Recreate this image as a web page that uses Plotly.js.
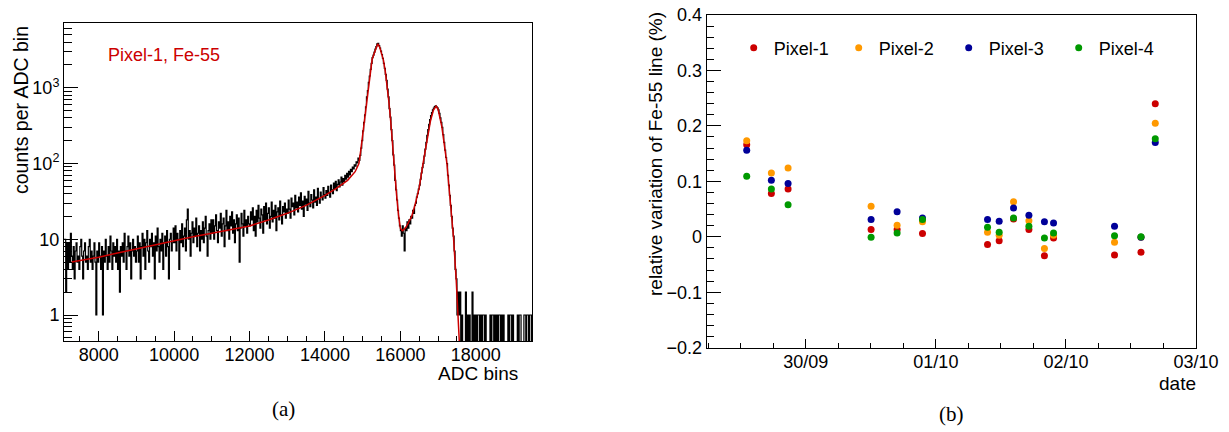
<!DOCTYPE html>
<html>
<head>
<meta charset="utf-8">
<script src="https://cdn.plot.ly/plotly-3.0.1.min.js"></script>
<style>
html,body{margin:0;padding:0;background:#fff;}
#chart{width:1229px;height:432px;}
</style>
</head>
<body>
<div id="chart"></div>
<script>
// ---------------- Panel (a): Fe-55 spectrum, Pixel-1 ----------------
const binStart = 7075;   // left edge of first ADC bin
const binWidth = 25;     // ADC bin width
const counts = [
  // 7075 .. 7975
  10,10,2,9,4,9,5,12,6,4,8,3,7,9,5,6,4,8,10,6,3,7,9,5,6,4,8,10,5,7,4,6,9,5,1,7,5,
  // 8000 .. 8975
  9,6,4,8,1,7,5,10,6,4,8,5,11,7,4,9,6,8,5,10,4,7,2,8,6,9,5,12,7,4,8,11,6,9,3,7,10,6,8,5,
  // 9000 .. 9975
  7,11,5,9,3,8,12,6,10,4,9,13,7,5,10,8,12,6,9,3,11,7,14,8,5,10,7,12,4,9,11,6,13,8,3,10,12,7,9,14,
  // 10000 .. 10975
  9,15,7,12,10,4,13,9,16,8,11,14,7,18,25,10,13,6,12,17,9,14,11,19,8,12,15,7,13,10,17,9,14,20,11,6,13,16,10,18,
  // 11000 .. 11975
  12,18,10,15,21,13,9,17,14,22,11,16,19,8,15,24,13,17,10,20,15,23,12,18,9,16,21,13,19,5,14,22,16,11,24,15,18,12,20,16,
  // 12000 .. 12975
  15,23,18,26,13,20,11,24,17,28,19,14,25,21,12,27,18,30,16,22,26,14,20,31,17,24,19,28,13,23,26,18,32,21,16,27,23,30,19,25,
  // 13000 .. 13975
  22,33,25,19,35,27,30,21,38,26,31,23,36,28,41,25,32,20,37,29,34,24,43,30,27,39,33,26,45,31,36,28,47,34,30,42,37,33,48,39,
  // 14000 .. 14975
  35,44,38,50,41,36,52,45,40,55,47,58,44,53,61,49,57,66,52,63,58,70,62,74,66,79,71,84,78,90,85,96,92,105,102,118,110,128,160,200,
  // 15000 .. 15975
  270,350,440,560,760,920,1180,1430,1750,2100,2500,2700,2950,3250,3500,3800,3850,3600,3350,3050,
  2750,2450,2100,1800,1500,1250,960,760,530,410,280,200,130,95,60,45,33,24,19,15,
  // 16000 .. 16975
  13,11,15,12,7,14,13,17,14,18,16,20,19,24,22,28,30,36,40,46,52,62,75,88,100,125,155,190,235,280,330,380,430,470,510,540,565,575,560,545,
  // 17000 .. 17975
  510,460,400,350,300,240,190,150,120,100,70,52,38,28,20,14,11,7,4,3,1,2,1,2,0,1,0,0,0,2,0,1,0,1,0,0,2,0,1,0,
  // 18000 .. 18975
  1,0,1,1,0,1,0,1,1,0,1,0,0,0,0,1,0,1,1,0,1,0,1,0,1,1,0,1,0,1,0,0,0,0,1,0,1,1,0,1,
  // 19000 .. 19475
  0,0,0,0,1,0,1,1,0,0,0,1,1,0,1,1,0,1,1,0
];
// fit curve (red)
const fitADC = [7280,7500,8000,8500,9000,9500,10000,10500,11000,11500,12000,12500,13000,13500,14000,14300,14600,14800,14900,14950,
  15000,15050,15100,15150,15200,15250,15300,15350,15400,15450,15500,15550,15600,15650,15700,15750,15800,15850,15900,15950,
  16000,16050,16100,16150,16200,16300,16400,16500,16600,16700,16800,16877,16948,17000,17100,17233,17320,17408,17480,17540,17580];
const fitVal = [5.0,5.2,5.8,6.6,7.5,8.5,9.6,10.8,12,13.4,15,18,22,28,38,47,60,78,100,150,
  240,386,680,1060,1620,2370,2800,3300,3800,3450,2900,2320,1650,1050,620,330,150,70,38,21,
  14,13,13.5,14.5,16,20,30,48,100,200,370,507,573,520,305,100,30,10.7,2.9,0.63,0.3];

// ---------------- Panel (b): relative variation ----------------
const dates = ['2016-09-29 13:06','2016-09-29 17:39','2016-09-29 20:44','2016-09-30 12:03','2016-09-30 16:51',
  '2016-09-30 21:32','2016-10-01 09:32','2016-10-01 11:41','2016-10-01 14:20','2016-10-01 17:10',
  '2016-10-01 20:02','2016-10-01 21:43','2016-10-02 08:58','2016-10-02 13:51','2016-10-02 16:29'];
const pixel1 = [0.166,0.078,0.086,0.013,0.013,0.006,-0.014,-0.007,0.032,0.013,-0.034,-0.002,-0.033,-0.028,0.240];
const pixel2 = [0.173,0.115,0.124,0.055,0.021,0.027,0.008,0.003,0.063,0.029,-0.021,0.003,-0.010,-0.001,0.205];
const pixel3 = [0.156,0.102,0.096,0.031,0.045,0.034,0.031,0.028,0.052,0.039,0.027,0.025,0.019,-0.001,0.170];
const pixel4 = [0.109,0.086,0.058,-0.001,0.007,0.031,0.017,0.008,0.034,0.019,-0.002,0.007,0.002,0.000,0.177];
const pixelNames = ['Pixel-1','Pixel-2','Pixel-3','Pixel-4'];
const pixelColors = ['#cc0000','#ff9900','#000099','#009900'];

// ---------------- build traces ----------------
const histX = counts.map((_, i) => binStart + i * binWidth);
histX.push(binStart + counts.length * binWidth);
const histY = counts.map(v => v > 0 ? v : 0.01);
histY.push(histY[histY.length - 1]);

const W = 1229, H = 432;
const px = x => x / W;
const py = y => 1 - y / H;
const FONT = 'Liberation Sans, Arial, Helvetica, sans-serif';

const traces = [
  {x: histX, y: histY, type: 'scatter', mode: 'lines', line: {shape: 'hv', color: '#000', width: 1.2},
   xaxis: 'x', yaxis: 'y', showlegend: false, hoverinfo: 'skip'},
  {x: fitADC, y: fitVal, type: 'scatter', mode: 'lines', line: {color: '#cc0000', width: 1.5},
   xaxis: 'x', yaxis: 'y', showlegend: false, hoverinfo: 'skip'}
];
const series = [pixel1, pixel2, pixel3, pixel4];
const legendIds = ['legend', 'legend2', 'legend3', 'legend4'];
series.forEach((s, k) => {
  traces.push({x: dates, y: s, type: 'scatter', mode: 'markers', name: pixelNames[k],
    marker: {color: pixelColors[k], size: 7}, xaxis: 'x2', yaxis: 'y2', legend: legendIds[k]});
});

const minorLog = [];
[0.1, 1, 10, 100, 1000].forEach(d => { for (let m = 2; m <= 9; m++) minorLog.push(m * d); });

const axisCommon = {showline: true, mirror: true, linecolor: '#000', linewidth: 1, ticks: 'inside',
  tickcolor: '#000', tickwidth: 1, showgrid: false, zeroline: false,
  tickfont: {family: FONT, size: 18, color: '#000'}};

const legendBase = {bgcolor: 'rgba(0,0,0,0)', borderwidth: 0, xanchor: 'left', yanchor: 'middle',
  font: {family: FONT, size: 18, color: '#000'}, itemwidth: 30, orientation: 'h'};
const legendX = [753.7, 858.7, 968.7, 1078.7];

const layout = {
  width: W, height: H, margin: {l: 0, r: 0, t: 0, b: 0},
  paper_bgcolor: '#fff', plot_bgcolor: '#fff',
  font: {family: FONT, color: '#000'},
  xaxis: Object.assign({}, axisCommon, {domain: [px(64), px(532)], range: [7080, 19490], anchor: 'y',
    tick0: 0, dtick: 2000, ticklen: 10, tickformat: 'd', ticklabelstandoff: -3,
    minor: {dtick: 500, ticklen: 5, ticks: 'inside', tickcolor: '#000', tickwidth: 1}}),
  yaxis: Object.assign({}, axisCommon, {domain: [py(341), py(23)], type: 'log', range: [-0.343, 3.855], anchor: 'x',
    tickmode: 'array', tickvals: [1, 10, 100, 1000], ticktext: ['1', '10', '10<sup>2</sup>', '10<sup>3</sup>'], ticklen: 14,
    minor: {tickmode: 'array', tickvals: minorLog, ticklen: 8, ticks: 'inside', tickcolor: '#000', tickwidth: 1}}),
  xaxis2: Object.assign({}, axisCommon, {domain: [px(706.7), px(1196)], type: 'date', anchor: 'y2',
    range: ['2016-09-29 05:43', '2016-10-03 00:00'], tick0: '2016-09-30', dtick: 86400000, tickformat: '%d/%m', ticklen: 9,
    ticklabelstandoff: -2,
    minor: {dtick: 21600000, ticklen: 4.5, ticks: 'inside', tickcolor: '#000', tickwidth: 1}}),
  yaxis2: Object.assign({}, axisCommon, {domain: [py(347.7), py(15)], range: [-0.2, 0.4], anchor: 'x2',
    tick0: 0, dtick: 0.1, ticklen: 14,
    minor: {dtick: 0.02, ticklen: 7, ticks: 'inside', tickcolor: '#000', tickwidth: 1}}),
  annotations: [
    {text: 'Pixel-1, Fe-55', xref: 'paper', yref: 'paper', x: px(106), y: py(55), xanchor: 'left', yanchor: 'middle',
     showarrow: false, font: {family: FONT, size: 18, color: '#cc0000'}},
    {text: 'counts per ADC bin', xref: 'paper', yref: 'paper', x: px(21), y: py(110), textangle: -90,
     xanchor: 'center', yanchor: 'middle', showarrow: false, font: {family: FONT, size: 19.5, color: '#000'}},
    {text: 'ADC bins', xref: 'paper', yref: 'paper', x: px(478), y: py(373), xanchor: 'center', yanchor: 'middle',
     showarrow: false, font: {family: FONT, size: 19, color: '#000'}},
    {text: 'relative variation of Fe-55 line (%)', xref: 'paper', yref: 'paper', x: px(656), y: py(154), textangle: -90,
     xanchor: 'center', yanchor: 'middle', showarrow: false, font: {family: FONT, size: 19, color: '#000'}},
    {text: 'date', xref: 'paper', yref: 'paper', x: px(1177), y: py(383), xanchor: 'center', yanchor: 'middle',
     showarrow: false, font: {family: FONT, size: 19, color: '#000'}},
    {text: '(a)', xref: 'paper', yref: 'paper', x: px(283), y: py(409), xanchor: 'center', yanchor: 'middle',
     showarrow: false, font: {family: 'Liberation Serif, DejaVu Serif, serif', size: 21, color: '#000'}},
    {text: '(b)', xref: 'paper', yref: 'paper', x: px(951), y: py(414), xanchor: 'center', yanchor: 'middle',
     showarrow: false, font: {family: 'Liberation Serif, DejaVu Serif, serif', size: 21, color: '#000'}}
  ]
};
legendIds.forEach((id, k) => {
  layout[id] = Object.assign({}, legendBase, {x: px(legendX[k] - 20), y: py(48)});
});

Plotly.newPlot('chart', traces, layout, {displayModeBar: false, staticPlot: true});
</script>
</body>
</html>
